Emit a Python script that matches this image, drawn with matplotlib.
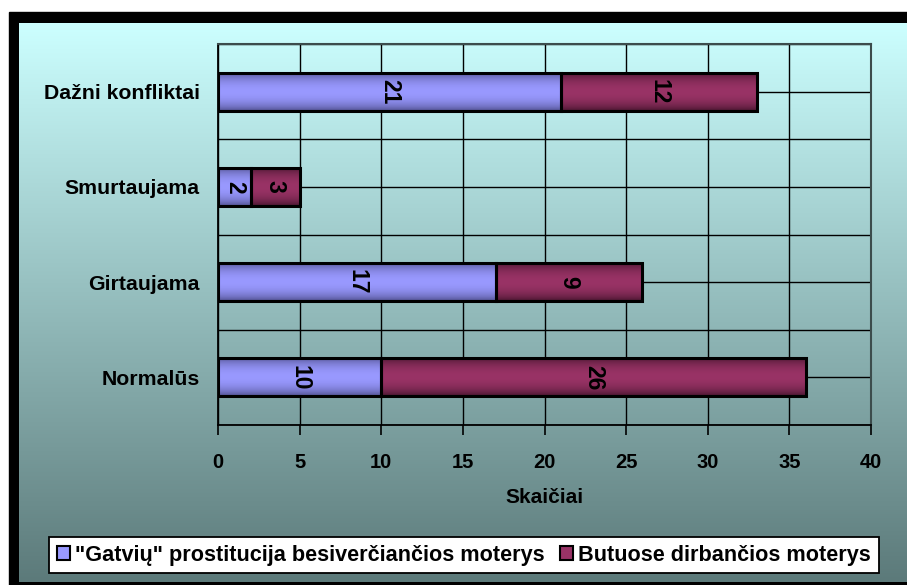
import numpy as np
import matplotlib
matplotlib.use('Agg')
import matplotlib.pyplot as plt
from matplotlib.patches import Rectangle, Patch

# ---- data ----
categories = ['Normalūs', 'Girtaujama', 'Smurtaujama', 'Dažni konfliktai']
street_values = [10, 17, 2, 21]
brothel_values = [26, 9, 3, 12]
series_names = ['"Gatvių" prostitucija besiverčiančios moterys',
                'Butuose dirbančios moterys']
x_ticks = [0, 5, 10, 15, 20, 25, 30, 35, 40]
x_label = 'Skaičiai'

REG = 'Liberation Sans'

W, H = 907, 585
fig = plt.figure(figsize=(W / 100, H / 100), dpi=100)
fig.patch.set_facecolor('white')

# background frame + gradient
bg = fig.add_axes([0, 0, 1, 1])
bg.axis('off')
bg.add_patch(Rectangle((9, 12), 950, 650, color='black', zorder=0))
t = np.linspace(0, 1, 256)[:, None, None]
c_top = np.array([204, 255, 255]) / 255
c_bot = np.array([92, 122, 122]) / 255
grad = c_top + (c_bot - c_top) * t
bg.imshow(grad, extent=(19, W + 5, 582, 23), aspect='auto', zorder=1)
bg.set_xlim(0, W)
bg.set_ylim(H, 0)

# main axes
L, R, T, B = 218, 871, 44, 425
ax = fig.add_axes([L / W, 1 - B / H, (R - L) / W, (B - T) / H])
ax.patch.set_alpha(0)

y = np.arange(len(categories))
bh = 0.4


def gradient_img(center, edge):
    tt = np.linspace(0, 1, 64)
    s = np.sin(np.pi * tt) ** 0.6
    c = np.array(center) / 255
    e = np.array(edge) / 255
    return (e + (c - e) * s[:, None])[:, None, :]


blue_img = gradient_img((153, 153, 255), (72, 72, 130))
red_img = gradient_img((153, 51, 102), (62, 18, 40))

b1 = ax.barh(y, street_values, height=bh, facecolor='none', edgecolor='black',
             linewidth=2.2, zorder=4)
b2 = ax.barh(y, brothel_values, left=street_values, height=bh, facecolor='none',
             edgecolor='black', linewidth=2.2, zorder=4)

for cont, img in ((b1, blue_img), (b2, red_img)):
    for p in cont.patches:
        x0, y0 = p.get_x(), p.get_y()
        w, h = p.get_width(), p.get_height()
        im = ax.imshow(img, extent=(x0, x0 + w, y0, y0 + h), aspect='auto',
                       zorder=3, interpolation='bilinear')
        im.set_clip_path(p)

for cont, vals in ((b1, street_values), (b2, brothel_values)):
    for p, v in zip(cont.patches, vals):
        ax.text(p.get_x() + p.get_width() / 2, p.get_y() + p.get_height() / 2,
                str(v), rotation=-90, ha='center', va='center',
                fontsize=16.5, fontweight='bold', family=REG, zorder=5)

ax.set_xlim(0, 40)
ax.set_ylim(-0.5, len(categories) - 0.5)
ax.set_xticks(x_ticks)
ax.set_xticklabels([str(v) for v in x_ticks], fontsize=14.5, fontweight='bold',
                   family=REG)
ax.set_yticks(y)
ax.set_yticklabels(categories, fontsize=15.3, fontweight='bold', family=REG)
ax.set_yticks(np.arange(-0.5, len(categories), 0.5), minor=True)
ax.tick_params(axis='y', which='both', length=0, pad=13)
ax.tick_params(axis='x', direction='out', length=7, width=1.2, pad=13, color='black')

ax.set_axisbelow(True)
ax.grid(True, axis='x', color='black', linewidth=1.0)
ax.grid(True, axis='y', which='both', color='black', linewidth=1.0)
for s in ('left', 'bottom'):
    ax.spines[s].set_color('black')
    ax.spines[s].set_linewidth(1.3)
for s in ('top', 'right'):
    ax.spines[s].set_color('#3c4c4c')
    ax.spines[s].set_linewidth(1.5)

ax.set_xlabel(x_label, fontsize=15, fontweight='bold', family=REG, labelpad=12)

handles = [Patch(facecolor=(153/255, 153/255, 1), edgecolor='black', linewidth=1.5),
           Patch(facecolor=(153/255, 51/255, 102/255), edgecolor='black', linewidth=1.5)]
leg = fig.legend(handles, series_names, loc='center',
                 bbox_to_anchor=(464 / W, 1 - 555 / H), ncol=2, frameon=True,
                 fancybox=False, edgecolor='black', framealpha=1,
                 handlelength=0.6, handleheight=0.6, handletextpad=0.25,
                 columnspacing=0.7, borderpad=0.35, borderaxespad=0,
                 prop={'family': REG, 'size': 15.6, 'weight': 'bold'})
leg.get_frame().set_linewidth(1.3)

fig.savefig('out.png', dpi=100, facecolor='white')
